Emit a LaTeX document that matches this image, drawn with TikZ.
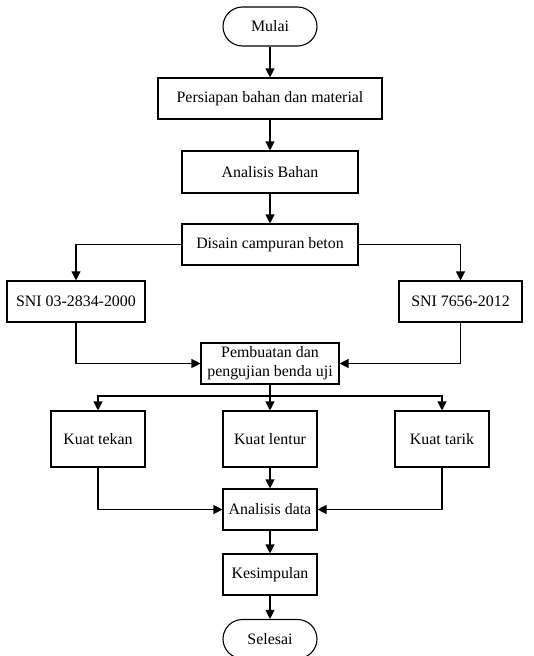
\documentclass[tikz,border=0pt]{standalone}
\usepackage{fontspec}
\setmainfont{Liberation Serif}
\usetikzlibrary{arrows.meta}
\begin{document}
\begin{tikzpicture}[x=1pt,y=-1pt,
  base/.style={draw=black,line width=1.1pt,inner sep=0pt,align=center,font=\fontsize{15.9}{19}\selectfont,fill=white},
  term/.style={base,minimum width=94pt,minimum height=39pt,rounded corners=19.5pt},
  proc/.style={base,minimum height=41pt},
  arr/.style={line width=1.1pt,-{Triangle[length=9pt,width=9pt]}}]
\useasboundingbox (0,0) rectangle (533,656);
\node[term] (mulai) at (270,26.5) {Mulai};
\node[proc,minimum width=224pt] (persiapan) at (270,98.5) {Persiapan bahan dan material};
\node[proc,minimum width=176pt,minimum height=42pt] (abahan) at (270,172) {Analisis Bahan};
\node[proc,minimum width=176pt] (disain) at (270,244.5) {Disain campuran beton};
\node[proc,minimum width=138pt] (sni1) at (76,301.5) {SNI 03-2834-2000};
\node[proc,minimum width=123pt] (sni2) at (460.5,301.5) {SNI 7656-2012};
\node[proc,minimum width=138pt] (buat) at (270,363.5) {Pembuatan dan\\pengujian benda uji};
\node[proc,minimum width=94pt,minimum height=56pt] (tekan) at (98,439) {Kuat tekan};
\node[proc,minimum width=94pt,minimum height=56pt] (lentur) at (270,439) {Kuat lentur};
\node[proc,minimum width=94pt,minimum height=56pt] (tarik) at (442,439) {Kuat tarik};
\node[proc,minimum width=94pt] (adata) at (270,509.5) {Analisis data};
\node[proc,minimum width=94pt] (simpul) at (270,574.5) {Kesimpulan};
\node[term] (selesai) at (270,639) {Selesai};
\coordinate (br) at (270,396);
\draw[arr] (mulai) -- (persiapan);
\draw[arr] (persiapan) -- (abahan);
\draw[arr] (abahan) -- (disain);
\draw[arr] (disain.west) -| (sni1.north);
\draw[arr] (disain.east) -| (sni2.north);
\draw[arr] (sni1.south) |- (buat.west);
\draw[arr] (sni2.south) |- (buat.east);
\draw[arr] (buat.south) -- (lentur.north);
\draw[arr] (br) -| (tekan.north);
\draw[arr] (br) -| (tarik.north);
\draw[arr] (lentur) -- (adata);
\draw[arr] (tekan.south) |- (adata.west);
\draw[arr] (tarik.south) |- (adata.east);
\draw[arr] (adata) -- (simpul);
\draw[arr] (simpul) -- (selesai);
\end{tikzpicture}
\end{document}
